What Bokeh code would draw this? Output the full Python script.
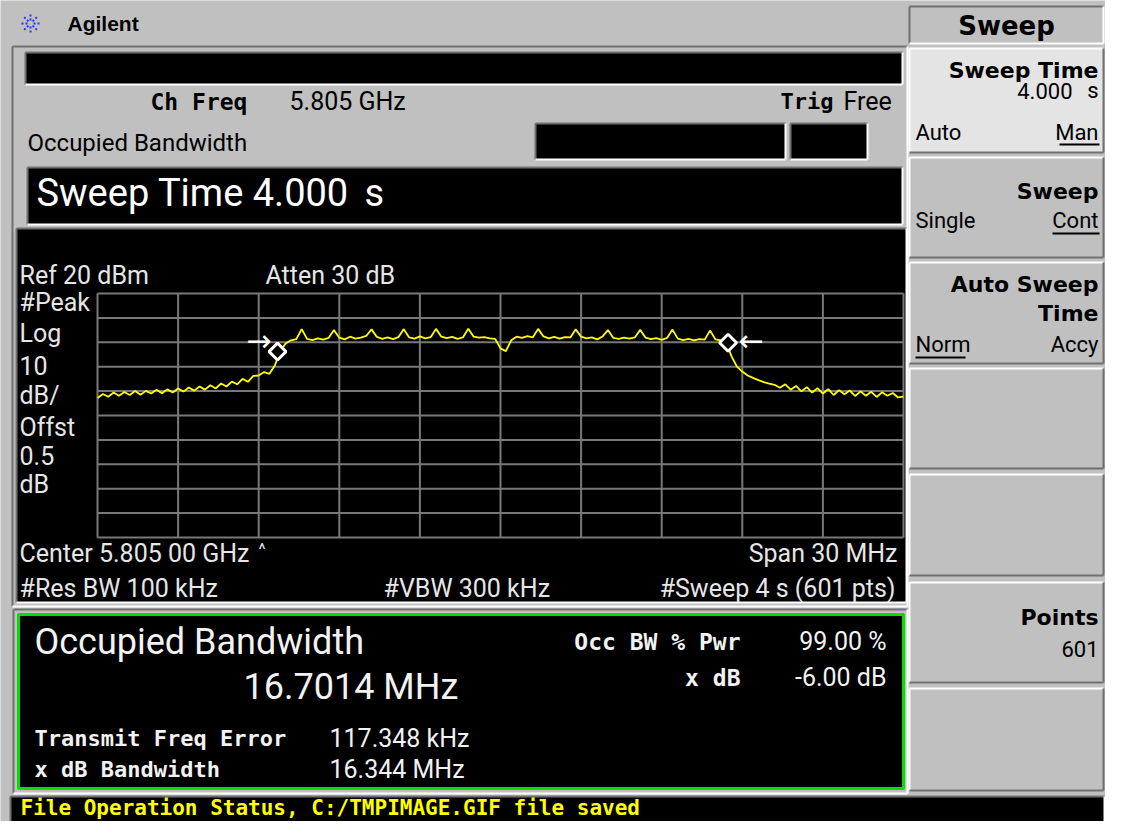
import numpy as np
from bokeh.plotting import figure
from bokeh.models import Range1d
from bokeh.core.properties import value
from bokeh.embed import file_html
from bokeh.resources import INLINE

# ---------------- data ----------------
center_mhz = 5805.0
span_mhz = 30.0
ref_level_dbm = 20.0
db_per_div = 10.0
n_div = 10

# peak trace, dBm, equally spaced over the span (every 0.2 MHz)
trace_dbm = [
    -22.8, -21.2, -22.3, -20.6, -21.9, -20.4, -21.6, -20.0, -21.5, -19.9,
    -21.0, -19.4, -20.9, -19.3, -20.6, -18.9, -20.2, -18.5, -19.8, -18.1,
    -19.4, -17.6, -18.9, -16.9, -18.1, -16.1, -17.2, -15.0, -16.2, -13.8,
    -13.6, -12.2, -12.9, -9.5, -3.8, -0.5, 0.8, 1.3, 5.4, 1.4,
    0.9, 1.6, 1.1, 1.8, 5.0, 1.9, 1.2, 2.3, 1.5, 1.9,
    2.6, 5.3, 2.2, 1.4, 2.0, 1.3, 2.1, 5.4, 2.0, 1.5,
    2.4, 1.6, 2.1, 5.5, 2.3, 1.7, 2.2, 1.4, 2.0, 5.6,
    2.3, 1.9, 2.1, 1.6, 1.4, -2.5, -3.6, 0.8, 2.3, 1.8,
    2.5, 2.0, 5.5, 2.4, 1.6, 2.2, 1.5, 2.1, 2.0, 5.3,
    2.3, 1.6, 2.0, 1.2, 2.4, 5.0, 1.8, 1.4, 1.9, 1.5,
    2.0, 5.1, 1.9, 1.3, 1.7, 1.0, 1.8, 5.2, 1.5, 0.9,
    1.4, 0.8, 1.3, 1.1, 4.8, 1.2, 0.8, -0.2, -5.8, -10.0,
    -12.0, -13.6, -14.6, -15.5, -16.3, -16.9, -17.4, -18.6, -17.2, -19.4,
    -17.9, -20.1, -18.4, -20.6, -18.8, -21.0, -19.2, -21.6, -19.6, -21.3,
    -19.8, -22.0, -20.1, -21.9, -20.3, -22.4, -20.5, -21.9, -20.8, -22.6,
    -22.3,
]

occ_marker_mhz = [5796.70, 5813.47]
occ_marker_dbm = [-3.8, -0.2]
xdb_arrow_mhz = [5796.0, 5814.34]
xdb_arrow_dbm = [0.7, 0.7]
xdb_arrow_text = ["\u2192", "\u2190"]

# ---------------- layout (screen pixels of the instrument display) ----------------
W, H = 1105, 821
GL, GR, GT, GB = 97, 903, 293, 537          # graticule box

px_per_mhz = (GR - GL) / span_mhz
px_per_db = (GB - GT) / (n_div * db_per_div)
fmid_px = (GL + GR) / 2

p = figure(width=W, height=H, output_backend="svg", toolbar_location=None,
           x_range=Range1d(0, W), y_range=Range1d(H, 0),
           min_border=0, title=None)
p.axis.visible = False
p.grid.visible = False
p.outline_line_color = None
p.background_fill_color = "#c0c0c0"
p.border_fill_color = "#c0c0c0"

p.extra_x_ranges = {"freq": Range1d(center_mhz + (0 - fmid_px) / px_per_mhz,
                                    center_mhz + (W - fmid_px) / px_per_mhz)}
p.extra_y_ranges = {"dbm": Range1d(ref_level_dbm - (H - GT) / px_per_db,
                                   ref_level_dbm + GT / px_per_db)}

GRAY = "#c0c0c0"
DARK = "#707070"
WHITE = "#ffffff"


def Q(x0, y0, x1, y1, fill, line=None, lw=1):
    p.quad(left=[x0], right=[x1], top=[y0], bottom=[y1], fill_color=fill,
           line_color=line, line_width=lw)


def BEVEL(x0, y0, x1, y1, fill, raised=True, w=2):
    Q(x0, y0, x1, y1, fill)
    a, b = (WHITE, DARK) if raised else (DARK, WHITE)
    p.multi_line(xs=[[x0, x1], [x0, x0]], ys=[[y0, y0], [y0, y1]], line_color=a, line_width=w)
    p.multi_line(xs=[[x0, x1], [x1, x1]], ys=[[y1, y1], [y0, y1]], line_color=b, line_width=w)


def T(x, y, s, size, align="left", font="Roboto", style="normal", color="black"):
    p.text(x=[x], y=[y], text=[s], text_font=value(font), text_font_size=f"{size}px",
           text_font_style=style, text_align=align, text_baseline="middle",
           text_color=color)


MONO = "DejaVu Sans Mono"
SANS = "Roboto"

# ---- title bar ----
ang = np.arange(8) * np.pi / 4
cx, cy = 30, 23
p.segment(x0=cx + 3 * np.cos(ang), y0=cy + 3 * np.sin(ang),
          x1=cx + 10 * np.cos(ang), y1=cy + 10 * np.sin(ang),
          line_color="#3030ff", line_width=2, line_dash="2 2")
T(67, 23, "Agilent", 21, font="Liberation Sans", style="bold")

# ---- left panel ----
BEVEL(12, 46, 907, 606, GRAY, raised=False)
BEVEL(25, 52, 902, 84, "black", raised=False)
T(150, 101, "Ch Freq", 23, font=MONO, style="bold")
T(289, 101, "5.805 GHz", 25, font=SANS)
T(780, 101, "Trig", 22, font=MONO, style="bold")
T(843, 101, "Free", 25, font=SANS)
T(27, 142, "Occupied Bandwidth", 24, font=SANS)
BEVEL(535, 123, 785, 159, "black", raised=False)
BEVEL(790, 123, 867, 159, "black", raised=False)
BEVEL(27, 167, 902, 224, "black", raised=False)
T(36, 192, "Sweep Time 4.000", 38, font=SANS, color="white")
T(364, 192, "s", 38, font=SANS, color="white")

# graph area
BEVEL(16, 228, 906, 602, "black", raised=False)
GTXT = "#e6e6e6"
T(19, 275, "Ref 20 dBm", 25, color=GTXT)
T(265, 275, "Atten 30 dB", 25, color=GTXT)
for yy, s in zip([302, 333, 365, 395, 427, 455, 484],
                 ["#Peak", "Log", "10", "dB/", "Offst", "0.5", "dB"]):
    T(19, yy, s, 25, color=GTXT)
T(19, 553, "Center 5.805 00 GHz", 25, color=GTXT)
T(258, 548, "^", 17, color=GTXT)
T(897, 553, "Span 30 MHz", 25, align="right", color=GTXT)
T(19, 588, "#Res BW 100 kHz", 25, color=GTXT)
T(383, 588, "#VBW 300 kHz", 25, color=GTXT)
T(895, 588, "#Sweep 4 s (601 pts)", 25, align="right", color=GTXT)

# graticule (data coordinates)
fr = dict(x_range_name="freq", y_range_name="dbm")
v_x = [center_mhz - span_mhz / 2 + i * span_mhz / n_div for i in range(n_div + 1)]
h_y = [ref_level_dbm - i * db_per_div for i in range(n_div + 1)]
p.segment(x0=v_x, x1=v_x, y0=[h_y[0]] * len(v_x), y1=[h_y[-1]] * len(v_x),
          line_color="#787878", line_width=2, **fr)
p.segment(x0=[v_x[0]] * len(h_y), x1=[v_x[-1]] * len(h_y), y0=h_y, y1=h_y,
          line_color="#787878", line_width=2, **fr)

freq_mhz = np.linspace(center_mhz - span_mhz / 2, center_mhz + span_mhz / 2, len(trace_dbm))
p.line(freq_mhz, trace_dbm, line_color="#ffff00", line_width=1.8, **fr)
p.scatter(occ_marker_mhz, occ_marker_dbm, marker="square", angle=np.pi / 4, size=12,
          fill_color="black", line_color="white", line_width=3, **fr)
p.text(xdb_arrow_mhz, xdb_arrow_dbm, text=xdb_arrow_text, text_font=value("DejaVu Sans"),
       text_font_size="30px", text_align="center", text_baseline="middle",
       text_color="white", **fr)

# ---- results panel ----
BEVEL(13, 609, 907, 793, GRAY, raised=False)
Q(18, 614, 903, 788, "black", line="#00e000", lw=3)
RT = "#f2f2f2"
T(34, 641, "Occupied Bandwidth", 36, color=RT)
T(243, 686, "16.7014 MHz", 36, color=RT)
T(740, 641, "Occ BW % Pwr", 23, align="right", font=MONO, style="bold", color=RT)
T(886, 641, "99.00 %", 25, align="right", color=RT)
T(740, 677, "x dB", 23, align="right", font=MONO, style="bold", color=RT)
T(886, 677, "-6.00 dB", 25, align="right", color=RT)
T(34, 738, "Transmit Freq Error", 22, font=MONO, style="bold", color=RT)
T(329, 738, "117.348 kHz", 25, color=RT)
T(34, 769, "x dB Bandwidth", 22, font=MONO, style="bold", color=RT)
T(329, 769, "16.344 MHz", 25, color=RT)

# ---- status bar ----
BEVEL(10, 796, 1104, 822, "black", raised=False)
T(20, 807, "File Operation Status, C:/TMPIMAGE.GIF file saved", 21, font=MONO,
  style="bold", color="#ffff00")

# ---- softkeys ----
KL, KR = 909, 1103
BEVEL(KL, 6, KR, 43, GRAY, raised=False)
T((KL + KR) / 2, 25, "Sweep", 26, align="center", font="DejaVu Sans", style="bold")
keys = [(48, 152), (157, 257), (262, 363), (368, 468), (474, 575), (582, 682), (688, 790)]
for i, (k0, k1) in enumerate(keys):
    BEVEL(KL, k0, KR, k1, "#e4e4e4" if i == 0 else GRAY, raised=True)

TR, TL = KR - 5, KL + 6
KB = dict(font="DejaVu Sans", style="bold", align="right")
T(TR, 70, "Sweep Time", 22, **KB)
T(TR - 26, 90, "4.000", 22, align="right")
T(TR, 90, "s", 22, align="right")
T(TL, 132, "Auto", 22)
T(TR, 132, "Man", 22, align="right")
T(TR, 191, "Sweep", 22, **KB)
T(TL, 220, "Single", 22)
T(TR, 220, "Cont", 22, align="right")
T(TR, 284, "Auto Sweep", 22, **KB)
T(TR, 313, "Time", 22, **KB)
T(TL, 344, "Norm", 22)
T(TR, 344, "Accy", 22, align="right")
T(TR, 617, "Points", 22, **KB)
T(TR, 648, "601", 22, align="right")
p.multi_line(xs=[[TR - 39, TR + 1], [TR - 46, TR + 1], [TL, TL + 50]],
             ys=[[144, 144], [233, 233], [357, 357]],
             line_color="black", line_width=2)

open("out.html", "w").write(file_html(p, INLINE))
